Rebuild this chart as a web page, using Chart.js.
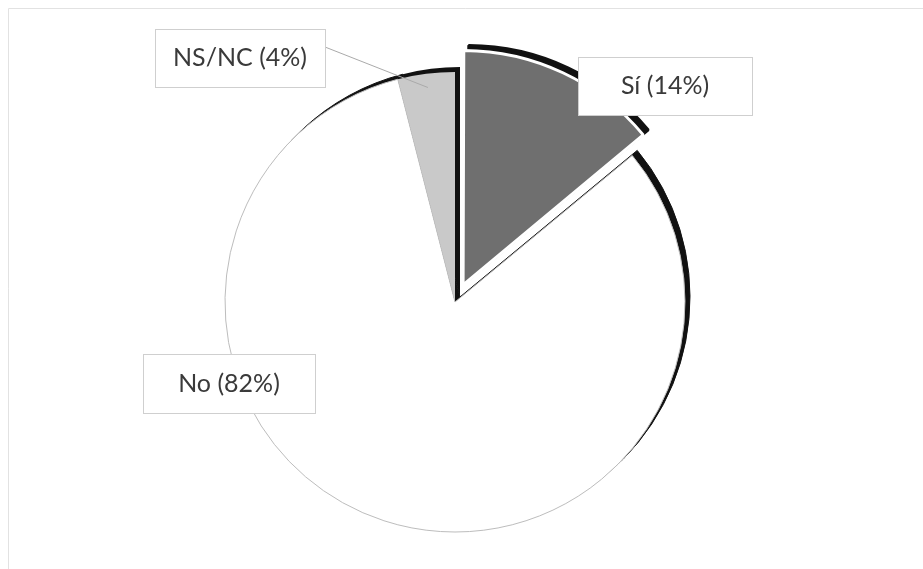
<!DOCTYPE html>
<html>
<head>
<meta charset="utf-8">
<script src="https://cdn.jsdelivr.net/npm/chart.js@4"></script>
<style>
    body { margin: 0; background: white; }
    #wrap { width: 923px; height: 569px; }
</style>
</head>
<body>
<div id="wrap"><canvas id="pie" width="923" height="569"></canvas></div>
<script>
const categories = ['Sí', 'No', 'NS/NC'];
const percents = [14, 82, 4];
const labelTexts = categories.map((c, i) => `${c} (${percents[i]}%)`);

// label boxes, drawn on top of the pie
const boxes = [
    {x: 578, y: 57, w: 174, h: 58},
    {x: 143, y: 354, w: 172, h: 59},
    {x: 155, y: 29, w: 170, h: 58, leader: true}
];

const shadowPlugin = {
    id: 'shadow',
    beforeDraw(chart) {
        const ctx = chart.ctx;
        ctx.save();
        ctx.fillStyle = 'white';
        ctx.fillRect(0, 0, chart.width, chart.height);
        ctx.strokeStyle = '#e2e2e2';
        ctx.lineWidth = 1;
        ctx.beginPath();
        ctx.moveTo(8.5, chart.height);
        ctx.lineTo(8.5, 8.5);
        ctx.lineTo(chart.width, 8.5);
        ctx.stroke();
        ctx.restore();
    },
    beforeDatasetsDraw(chart) {
        const ctx = chart.ctx;
        const meta = chart.getDatasetMeta(0);
        ctx.save();
        ctx.translate(5, -5);
        meta.data.forEach(arc => {
            const ghost = Object.create(arc);
            ghost.options = Object.assign({}, arc.options, {
                backgroundColor: '#111',
                borderColor: '#111'
            });
            arc.draw.call(ghost, ctx);
        });
        ctx.restore();
    }
};

const boxPlugin = {
    id: 'boxes',
    afterDatasetsDraw(chart) {
        const ctx = chart.ctx;
        const meta = chart.getDatasetMeta(0);
        ctx.save();
        boxes.forEach((b, i) => {
            if (b.leader) {
                const arc = meta.data[i];
                const mid = (arc.startAngle + arc.endAngle) / 2;
                const r = arc.outerRadius * 0.94;
                ctx.strokeStyle = '#aaa';
                ctx.lineWidth = 1;
                ctx.beginPath();
                ctx.moveTo(b.x + b.w, b.y + 18);
                ctx.lineTo(arc.x + Math.cos(mid) * r, arc.y + Math.sin(mid) * r);
                ctx.stroke();
            }
            ctx.fillStyle = 'white';
            ctx.fillRect(b.x, b.y, b.w, b.h);
            ctx.strokeStyle = '#cfcfcf';
            ctx.lineWidth = 1;
            ctx.strokeRect(b.x + 0.5, b.y + 0.5, b.w, b.h);
            ctx.fillStyle = '#3a3a3a';
            ctx.font = '25px Lato';
            ctx.textAlign = 'center';
            ctx.textBaseline = 'middle';
            ctx.fillText(labelTexts[i], b.x + b.w / 2, b.y + b.h / 2);
        });
        ctx.restore();
    }
};

const config = {
    type: 'pie',
    data: {
        labels: categories,
        datasets: [{
            data: percents,
            backgroundColor: ['#6f6f6f', '#ffffff', '#c9c9c9'],
            borderColor: ['#ffffff', '#bdbdbd', '#c9c9c9'],
            borderWidth: [3, 1, 0],
            offset: [76, 0, 0],
            hoverOffset: 0
        }]
    },
    options: {
        responsive: false,
        animation: false,
        radius: 230,
        layout: {
            padding: {left: 0, right: 13, top: 35, bottom: 0}
        },
        plugins: {
            legend: { display: false },
            tooltip: { enabled: false }
        }
    },
    plugins: [shadowPlugin, boxPlugin]
};

const pieChart = new Chart(document.getElementById('pie'), config);
</script>
</body>
</html>
